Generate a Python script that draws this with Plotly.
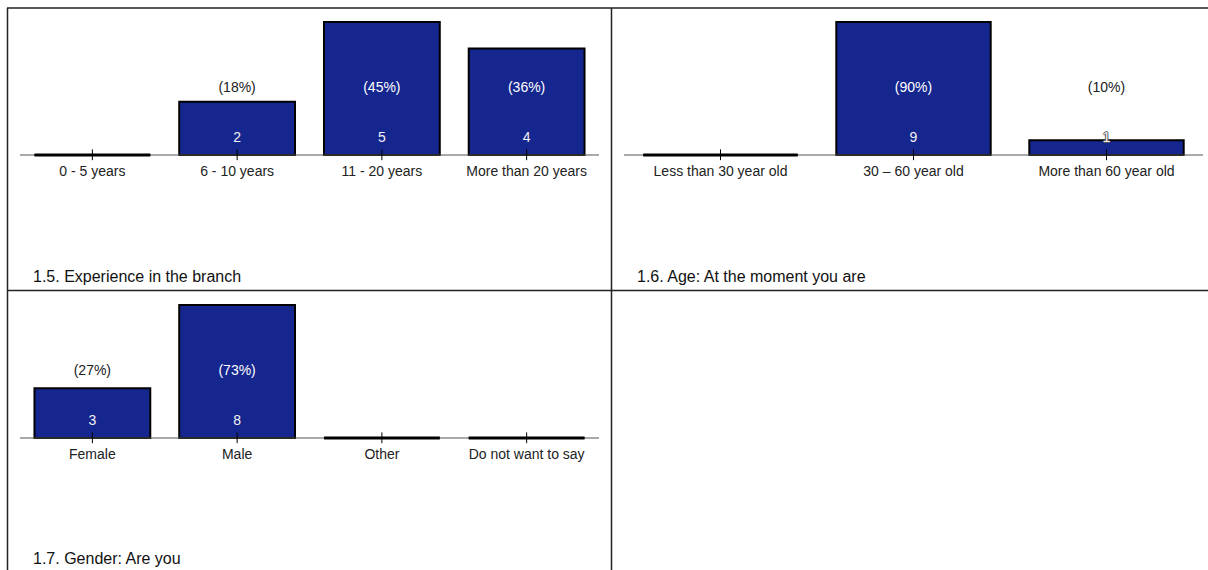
import plotly.graph_objects as go

# Survey answers per question
exp_labels = ["0 - 5 years", "6 - 10 years", "11 - 20 years", "More than 20 years"]
exp_counts = [0, 2, 5, 4]

age_labels = ["Less than 30 year old", "30 – 60 year old", "More than 60 year old"]
age_counts = [0, 9, 1]

gender_labels = ["Female", "Male", "Other", "Do not want to say"]
gender_counts = [3, 8, 0, 0]

titles = ["1.5. Experience in the branch", "1.6. Age: At the moment you are", "1.7. Gender: Are you"]

W, H = 1208, 570
BAR_COLOR = "#16268F"
FONT = "Arial, Liberation Sans, sans-serif"
BAR_PX = 133          # pixel height of the tallest bar
PAD = 0.04            # axis padding as a fraction of the max value


def px_x(x):
    return x / W


def px_y(y):
    return 1 - y / H


# (labels, counts, left px, right px, baseline px, title x px, title y px)
panels = [
    (exp_labels, exp_counts, 20, 599, 155, 31, 276),
    (age_labels, age_counts, 624, 1203, 155, 635, 276),
    (gender_labels, gender_counts, 20, 599, 438, 31, 558),
]

fig = go.Figure()
annotations = []

for k, (labels, counts, x0, x1, base, tx, ty) in enumerate(panels):
    n = len(labels)
    ymax = max(counts)
    total = sum(counts)
    xa = "x" if k == 0 else f"x{k + 1}"
    ya = "y" if k == 0 else f"y{k + 1}"
    idx = list(range(n))

    # baseline
    fig.add_trace(go.Scatter(x=[-0.5, n - 0.5], y=[0, 0], mode="lines",
                             line=dict(color="#555", width=1),
                             xaxis=xa, yaxis=ya, hoverinfo="skip"))
    # bars
    fig.add_trace(go.Bar(x=idx, y=counts, width=0.8,
                         marker=dict(color=BAR_COLOR, line=dict(color="black", width=2)),
                         xaxis=xa, yaxis=ya, hoverinfo="skip"))
    # empty categories shown as a flat outline
    zx, zy = [], []
    for i, c in enumerate(counts):
        if c == 0:
            zx += [i - 0.4, i + 0.4, None]
            zy += [0, 0, None]
    if zx:
        fig.add_trace(go.Scatter(x=zx, y=zy, mode="lines",
                                 line=dict(color="black", width=3),
                                 xaxis=xa, yaxis=ya, hoverinfo="skip"))
    # tick marks crossing the baseline
    fig.add_trace(go.Scatter(x=idx, y=[0] * n, mode="markers",
                             marker=dict(symbol="line-ns", size=8,
                                         line=dict(color="black", width=1)),
                             xaxis=xa, yaxis=ya, hoverinfo="skip"))

    # percentage labels at mid height
    px_i = [i for i, c in enumerate(counts) if c > 0]
    fig.add_trace(go.Scatter(
        x=px_i, y=[ymax / 2] * len(px_i), mode="text",
        text=[f"({round(100 * counts[i] / total)}%)" for i in px_i],
        textposition="middle center",
        textfont=dict(family=FONT, size=14,
                      color=["white" if counts[i] > ymax / 2 else "#222" for i in px_i]),
        xaxis=xa, yaxis=ya, hoverinfo="skip"))

    # count labels near the base of each bar
    count_y = 16.5 * ymax / BAR_PX
    tall = [i for i in px_i if counts[i] * BAR_PX / ymax > 24]
    short = [i for i in px_i if counts[i] * BAR_PX / ymax <= 24]
    if tall:
        fig.add_trace(go.Scatter(
            x=tall, y=[count_y] * len(tall), mode="text",
            text=[str(counts[i]) for i in tall], textposition="middle center",
            textfont=dict(family=FONT, size=14, color="#f2f2f2"),
            xaxis=xa, yaxis=ya, hoverinfo="skip"))
    if short:
        fig.add_trace(go.Scatter(
            x=short, y=[count_y] * len(short), mode="text",
            text=[str(counts[i]) for i in short], textposition="middle center",
            textfont=dict(family=FONT, size=14, color="#f2f2f2",
                          shadow="1px 0 0 #555, -1px 0 0 #555, 0 1px 0 #555, 0 -1px 0 #555"),
            xaxis=xa, yaxis=ya, hoverinfo="skip"))

    lo = -ymax * PAD
    hi = ymax * (1 + PAD)
    unit = BAR_PX / ymax
    dom_bottom = px_y(base - lo * unit)
    dom_top = px_y(base - hi * unit)

    fig.layout[("xaxis" if k == 0 else f"xaxis{k + 1}")] = dict(
        domain=[px_x(x0), px_x(x1)], range=[-0.5, n - 0.5],
        tickvals=idx, ticktext=labels, ticks="", showline=False,
        ticklabelstandoff=1,
        showgrid=False, zeroline=False, anchor=ya, fixedrange=True,
        tickfont=dict(family=FONT, size=14, color="#222"))
    fig.layout[("yaxis" if k == 0 else f"yaxis{k + 1}")] = dict(
        domain=[dom_bottom, dom_top], range=[lo, hi], visible=False,
        showgrid=False, zeroline=False, anchor=xa, fixedrange=True)

    annotations.append(dict(text=titles[k], xref="paper", yref="paper",
                            x=px_x(tx), y=px_y(ty), xanchor="left", yanchor="middle",
                            showarrow=False,
                            font=dict(family=FONT, size=16, color="#111")))

# panel frame lines
line_style = dict(color="#222", width=1.5)
shapes = [
    dict(type="line", xref="paper", yref="paper", x0=px_x(7), x1=1, y0=px_y(8), y1=px_y(8), line=line_style),
    dict(type="line", xref="paper", yref="paper", x0=px_x(7.5), x1=px_x(7.5), y0=px_y(8), y1=0, line=line_style),
    dict(type="line", xref="paper", yref="paper", x0=px_x(611.5), x1=px_x(611.5), y0=px_y(8), y1=0, line=line_style),
    dict(type="line", xref="paper", yref="paper", x0=px_x(7), x1=1, y0=px_y(290.5), y1=px_y(290.5), line=line_style),
]

fig.update_layout(width=W, height=H, margin=dict(l=0, r=0, t=0, b=0),
                  paper_bgcolor="white", plot_bgcolor="white",
                  showlegend=False, barmode="overlay",
                  annotations=annotations, shapes=shapes)

fig.write_html("out.html", config={"displayModeBar": False})
